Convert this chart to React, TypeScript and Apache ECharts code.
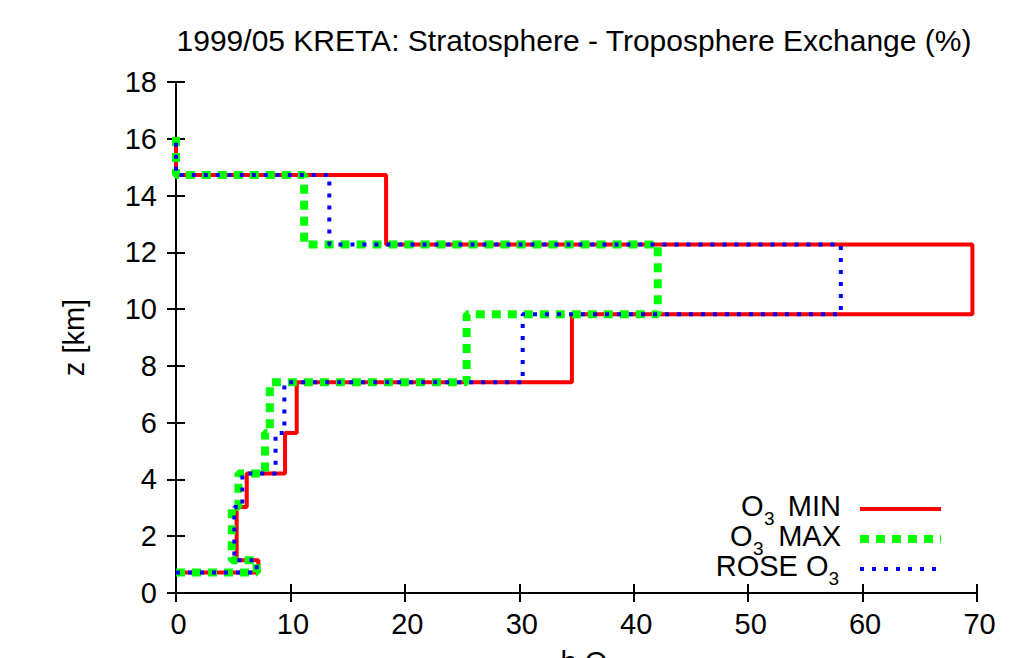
import React, { useEffect, useRef } from 'react';
import * as echarts from 'echarts';

// Layer boundaries (km) and per-layer exchange values (%)
const layerBounds = [0.72, 1.15, 3.03, 4.21, 5.64, 7.42, 9.82, 12.28, 14.72, 16.07];
const o3Min = [7.2, 5.3, 6.18, 9.53, 10.55, 34.6, 69.6, 18.36, 0];
const o3Max = [7.05, 4.87, 5.45, 7.78, 8.2, 25.4, 42.1, 11.2, 0];
const roseO3 = [7.05, 5.1, 5.8, 8.7, 9.47, 30.3, 58.1, 13.4, 0];

const seriesNames = ['O3 MIN', 'O3 MAX', 'ROSE O3'];
const titleText = '1999/05 KRETA: Stratosphere - Troposphere Exchange (%)';
const yName = 'z [km]';
const xNameMain = 'h O';
const xNameSub = '3';

const FONT = '"Liberation Sans", Arial, Helvetica, sans-serif';

function stepProfile(values: number[]): number[][] {
  const pts: number[][] = [[0, layerBounds[0]]];
  values.forEach((v, i) => {
    pts.push([v, layerBounds[i]]);
    pts.push([v, layerBounds[i + 1]]);
  });
  return pts;
}

function txt(text: string, x: number, y: number, size: number, align: string, lh: number) {
  return {
    type: 'text',
    x,
    y,
    style: {
      text,
      fontFamily: FONT,
      fontSize: size,
      lineHeight: lh,
      fill: '#000',
      textAlign: align,
      textVerticalAlign: 'middle',
    },
  };
}

export default function App() {
  const ref = useRef<HTMLDivElement>(null);
  useEffect(() => {
    if (!ref.current) return;
    const chart = echarts.init(ref.current, undefined, { renderer: 'svg' });
    const axisLine = { show: true, lineStyle: { color: '#000', width: 2 } };
    const axisTick = { show: true, inside: true, length: 9, lineStyle: { color: '#000', width: 2 } };
    const lineStyles = [
      { stroke: '#ff0000', lineWidth: 4 },
      { stroke: '#00ff00', lineWidth: 8, lineDash: [9, 7] },
      { stroke: '#0000ff', lineWidth: 4, lineDash: [4, 8] },
    ];
    const rowY = [509, 539, 569];
    const graphics: any[] = [];
    // legend row 1: O3 MIN
    graphics.push(txt('O', 741, rowY[0] - 3, 29, 'left', 22));
    graphics.push(txt('3', 764, rowY[0] + 9.5, 19, 'left', 12));
    graphics.push(txt('MIN', 841, rowY[0] - 3, 29, 'right', 22));
    // legend row 2: O3 MAX
    graphics.push(txt('O', 730, rowY[1] - 3, 29, 'left', 22));
    graphics.push(txt('3', 753, rowY[1] + 9.5, 19, 'left', 12));
    graphics.push(txt('MAX', 841, rowY[1] - 3, 29, 'right', 22));
    // legend row 3: ROSE O3
    graphics.push(txt('ROSE O', 828.5, rowY[2] - 3, 29, 'right', 22));
    graphics.push(txt('3', 828.5, rowY[2] + 9.5, 19, 'left', 12));
    rowY.forEach((y, i) => {
      graphics.push({
        type: 'line',
        shape: { x1: 860, y1: y, x2: 941, y2: y },
        style: { ...lineStyles[i], lineCap: 'butt' },
      });
    });
    // x-axis title (mostly cut off by the bottom edge, as in the reference)
    graphics.push(txt(xNameMain, 560.5, 661.5, 29, 'left', 22));
    graphics.push(txt(xNameSub, 613, 674, 19, 'left', 12));

    chart.setOption({
      animation: false,
      backgroundColor: '#fff',
      title: {
        text: titleText,
        left: 574,
        top: 25,
        textAlign: 'center',
        padding: 0,
        textStyle: { fontFamily: FONT, fontSize: 30, fontWeight: 'normal', color: '#000' },
      },
      grid: { left: 176, right: 42, top: 82, bottom: 65 },
      xAxis: [
        {
          type: 'value',
          min: 0,
          max: 70,
          interval: 10,
          position: 'bottom',
          axisLine,
          axisTick,
          splitLine: { show: false },
          axisLabel: { fontFamily: FONT, fontSize: 29, color: '#000', margin: 16, padding: [0, 0, 0, 5] },
        },
        {
          type: 'value',
          min: 0,
          max: 70,
          interval: 10,
          position: 'top',
          axisLine,
          axisTick,
          splitLine: { show: false },
          axisLabel: { show: false },
        },
      ],
      yAxis: [
        {
          type: 'value',
          min: 0,
          max: 18,
          interval: 2,
          position: 'left',
          name: yName,
          nameLocation: 'middle',
          nameGap: 88,
          nameRotate: 90,
          nameTextStyle: { fontFamily: FONT, fontSize: 29, color: '#000' },
          axisLine,
          axisTick,
          splitLine: { show: false },
          axisLabel: { fontFamily: FONT, fontSize: 29, color: '#000', margin: 19 },
        },
        {
          type: 'value',
          min: 0,
          max: 18,
          interval: 2,
          position: 'right',
          axisLine,
          axisTick,
          splitLine: { show: false },
          axisLabel: { show: false },
        },
      ],
      series: [
        {
          name: seriesNames[0],
          type: 'line',
          data: stepProfile(o3Min),
          showSymbol: false,
          symbol: 'none',
          clip: false,
          lineStyle: { color: '#ff0000', width: 4, cap: 'butt' },
          z: 2,
        },
        {
          name: seriesNames[1],
          type: 'line',
          data: stepProfile(o3Max),
          showSymbol: false,
          symbol: 'none',
          clip: false,
          lineStyle: { color: '#00ff00', width: 8, type: [9, 7], cap: 'butt' },
          z: 3,
        },
        {
          name: seriesNames[2],
          type: 'line',
          data: stepProfile(roseO3),
          showSymbol: false,
          symbol: 'none',
          clip: false,
          lineStyle: { color: '#0000ff', width: 4, type: [4, 8], cap: 'butt' },
          z: 4,
        },
      ],
      graphic: graphics,
    });
    return () => chart.dispose();
  }, []);
  return (
    <div
      ref={ref}
      style={{ position: 'fixed', left: 0, top: 0, width: 1019, height: 658, background: '#fff' }}
    />
  );
}
